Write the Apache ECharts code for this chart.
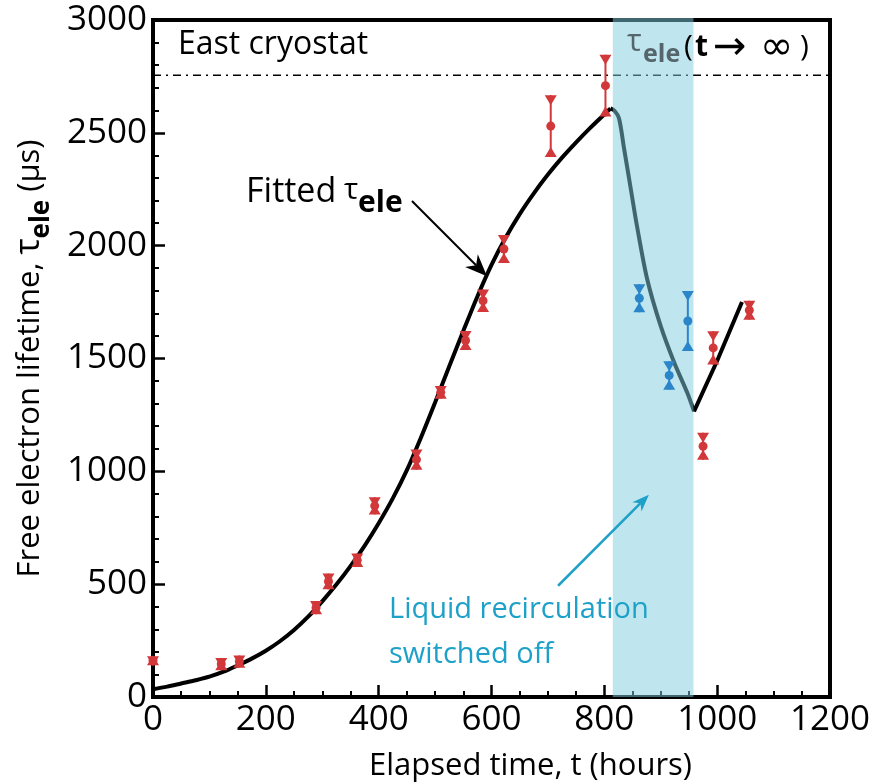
<!DOCTYPE html>
<html>
<head>
<meta charset="utf-8">
<script src="https://cdn.jsdelivr.net/npm/echarts@6/dist/echarts.min.js"></script>
<style>
  html, body { margin: 0; padding: 0; background: #fff; }
  #chart { width: 890px; height: 783px; }
</style>
</head>
<body>
<div id="chart"></div>
<script>
// Measured free electron lifetime, east cryostat (hours, µs, ± error)
const redHours = [0, 121, 153, 289, 311, 362, 393, 467, 510, 554, 585, 622, 705, 802, 975, 993, 1057];
const redTau   = [161, 146, 157, 396, 512, 606, 847, 1052, 1350, 1580, 1756, 1985, 2530, 2709, 1111, 1547, 1714];
const redErr   = [20, 27, 27, 29, 35, 30, 38, 45, 28, 42, 50, 62, 137, 137, 60, 74, 42];

// Measurements taken while liquid recirculation was off
const blueHours = [862, 915, 948];
const blueTau   = [1767, 1425, 1666];
const blueErr   = [62, 63, 133];

// Fitted lifetime curve: rise, decay with recirculation off, recovery
const fitRiseHours = [0, 25, 50, 75, 100, 125, 150, 175, 200, 225, 250, 275, 300, 325, 350, 375, 400, 425, 450, 475, 500, 525, 550, 575, 600, 625, 650, 675, 700, 725, 750, 775, 800, 811];
const fitRiseTau   = [34, 46, 60, 74, 90, 112, 140, 170, 205, 247, 297, 356, 424, 498, 580, 670, 770, 880, 1005, 1150, 1305, 1465, 1622, 1775, 1915, 2035, 2140, 2232, 2315, 2390, 2458, 2522, 2582, 2608];
const fitFallHours = [811, 818, 826, 835, 847, 858, 876, 900, 924, 947, 959];
const fitFallTau   = [2608, 2598, 2565, 2430, 2250, 2085, 1851, 1643, 1481, 1348, 1266];
const fitRecoverHours = [959, 1000, 1044];
const fitRecoverTau   = [1266, 1490, 1750];

// Asymptotic lifetime and the recirculation-off window
const asymptoteTau = 2755;
const offWindow = [815, 958];

// Axis ticks
const xTicks = { min: 0, max: 1200, step: 200 };
const yTicks = { min: 0, max: 3000, step: 500 };

const FONT = '"Open Sans", "Noto Sans", sans-serif';
const SYMBOL_FONT = '"DejaVu Sans", sans-serif';
const RED = '#d2373a';
const BLUE = '#2a86c8';

const pairs = (xs, ys) => xs.map((x, i) => [x, ys[i]]);
const triples = (xs, ys, es) => xs.map((x, i) => [x, ys[i], es[i]]);

function errorBarItem(color) {
  return function (params, api) {
    const x = api.value(0), y = api.value(1), e = api.value(2);
    const c = api.coord([x, y]);
    const hi = api.coord([x, y + e]);
    const lo = api.coord([x, y - e]);
    const w = 6, h = 10;
    return {
      type: 'group',
      children: [
        { type: 'line', shape: { x1: c[0], y1: hi[1], x2: c[0], y2: lo[1] },
          style: { stroke: color, lineWidth: 2 } },
        { type: 'polygon', shape: { points: [[c[0] - w, hi[1]], [c[0] + w, hi[1]], [c[0], hi[1] + h]] },
          style: { fill: color } },
        { type: 'polygon', shape: { points: [[c[0] - w, lo[1]], [c[0] + w, lo[1]], [c[0], lo[1] - h]] },
          style: { fill: color } },
        { type: 'circle', shape: { cx: c[0], cy: c[1], r: 4.5 }, style: { fill: color } }
      ]
    };
  };
}

const chart = echarts.init(document.getElementById('chart'), null, { renderer: 'canvas' });

const labelStyle = { color: '#000', fontSize: 35, fontFamily: FONT, margin: 6, formatter: v => String(v) };

chart.setOption({
  animation: false,
  backgroundColor: '#fff',
  grid: {
    left: 153, right: 60, top: 20, bottom: 86,
    show: true, borderColor: '#000', borderWidth: 4, backgroundColor: 'transparent',
    containLabel: false, outerBoundsMode: 'none'
  },
  xAxis: {
    type: 'value', z: 4,
    min: xTicks.min, max: xTicks.max, interval: xTicks.step,
    splitLine: { show: false },
    axisLine: { show: true, onZero: false, lineStyle: { color: '#000', width: 4 } },
    axisTick: { show: true, inside: true, length: 12, lineStyle: { color: '#000', width: 2.5 } },
    minorTick: { show: true, splitNumber: 4, length: 6, lineStyle: { color: '#000', width: 2 } },
    axisLabel: labelStyle,
    name: 'Elapsed time, t (hours)',
    nameLocation: 'middle',
    nameGap: 54,
    nameMoveOverlap: false,
    nameTextStyle: { color: '#000', fontSize: 31, fontFamily: FONT, padding: [0, 0, 0, 78] }
  },
  yAxis: {
    type: 'value', z: 4,
    min: yTicks.min, max: yTicks.max, interval: yTicks.step,
    splitLine: { show: false },
    axisLine: { show: true, onZero: false, lineStyle: { color: '#000', width: 4 } },
    axisTick: { show: true, inside: true, length: 12, lineStyle: { color: '#000', width: 2.5 } },
    minorTick: { show: true, splitNumber: 5, length: 6, lineStyle: { color: '#000', width: 2 } },
    axisLabel: labelStyle,
    name: '{a|Free electron lifetime, }{t|τ}{s|ele}{a| (μs)}',
    nameLocation: 'middle',
    nameGap: 98,
    nameMoveOverlap: false,
    nameTextStyle: {
      color: '#000', fontFamily: FONT,
      rich: {
        a: { fontSize: 31, fontFamily: FONT, color: '#000', lineHeight: 36, padding: [0, 0, 9, 0], verticalAlign: 'bottom' },
        t: { fontSize: 34, fontFamily: FONT, color: '#000', lineHeight: 36, padding: [0, 0, 9, 0], verticalAlign: 'bottom' },
        s: { fontSize: 26, fontFamily: FONT, fontWeight: 'bold', color: '#000', lineHeight: 32, verticalAlign: 'bottom' }
      }
    }
  },
  series: [
    {
      name: 'asymptote', type: 'line', z: 2, symbol: 'none', silent: true,
      data: [[xTicks.min, asymptoteTau], [xTicks.max, asymptoteTau]],
      lineStyle: { color: '#000', width: 1.6, type: [8, 5, 2, 5] }
    },
    {
      name: 'fit rise', type: 'line', z: 3, symbol: 'none', smooth: 0.3, silent: true,
      data: pairs(fitRiseHours, fitRiseTau),
      lineStyle: { color: '#000', width: 4 }
    },
    {
      name: 'fit decay', type: 'line', z: 3, symbol: 'none', smooth: 0.3, silent: true,
      data: pairs(fitFallHours, fitFallTau),
      lineStyle: { color: '#000', width: 4 }
    },
    {
      name: 'fit recovery', type: 'line', z: 3, symbol: 'none', silent: true,
      data: pairs(fitRecoverHours, fitRecoverTau),
      lineStyle: { color: '#000', width: 4 }
    },
    {
      name: 'recirculation off', type: 'custom', z: 6, silent: true,
      data: [offWindow],
      renderItem: function (params, api) {
        const a = api.coord([api.value(0), yTicks.max]);
        const b = api.coord([api.value(1), yTicks.min]);
        return {
          type: 'rect',
          shape: { x: a[0], y: a[1] - 2, width: b[0] - a[0], height: b[1] - a[1] + 2 },
          style: { fill: 'rgba(128, 203, 224, 0.5)' }
        };
      }
    },
    {
      name: 'east', type: 'custom', z: 10, silent: true,
      data: triples(redHours, redTau, redErr),
      renderItem: errorBarItem(RED)
    },
    {
      name: 'recirculation off points', type: 'custom', z: 10, silent: true,
      data: triples(blueHours, blueTau, blueErr),
      renderItem: errorBarItem(BLUE)
    }
  ]
});

// Annotation arrows are anchored in data space
function arrow(from, to, color, lineWidth, headLen, headWidth) {
  const p1 = chart.convertToPixel({ gridIndex: 0 }, from);
  const p2 = chart.convertToPixel({ gridIndex: 0 }, to);
  const dx = p2[0] - p1[0], dy = p2[1] - p1[1];
  const len = Math.sqrt(dx * dx + dy * dy);
  const ux = dx / len, uy = dy / len, nx = -uy, ny = ux;
  const bx = p2[0] - ux * headLen, by = p2[1] - uy * headLen;
  const notchX = p2[0] - ux * headLen * 0.7, notchY = p2[1] - uy * headLen * 0.7;
  return [
    { type: 'line', z: 20, shape: { x1: p1[0], y1: p1[1], x2: notchX, y2: notchY },
      style: { stroke: color, lineWidth: lineWidth } },
    { type: 'polygon', z: 20, shape: { points: [
        [p2[0], p2[1]],
        [bx + nx * headWidth / 2, by + ny * headWidth / 2],
        [notchX, notchY],
        [bx - nx * headWidth / 2, by - ny * headWidth / 2]
      ] }, style: { fill: color } }
  ];
}

function label(text, x, y, size, opts) {
  return {
    type: 'text', z: 20, x: x, y: y,
    style: Object.assign({
      text: text, fontSize: size, fontFamily: FONT, fill: '#000',
      align: 'left', verticalAlign: 'middle'
    }, opts || {})
  };
}

const TEAL = '#1ea1c9';
const GREY = '#56656c';

chart.setOption({
  graphic: [
    label('East cryostat', 178, 45, 32),
    label('τ', 627, 42, 31, { fill: GREY }),
    label('ele', 643, 55, 25, { fill: GREY, fontWeight: 'bold' }),
    label('(', 684, 47, 30),
    label('t', 695, 47, 30, { fontWeight: 'bold' }),
    label('→', 713, 49, 40, { fontFamily: SYMBOL_FONT }),
    label('∞', 760, 49, 40, { fontFamily: SYMBOL_FONT }),
    label(')', 800, 47, 30),
    label('Fitted', 246, 192, 34),
    label('τ', 344, 190, 30),
    label('ele', 358, 203, 30, { fontWeight: 'bold' }),
    label('Liquid recirculation', 389, 610, 29, { fill: TEAL }),
    label('switched off', 389, 655, 29, { fill: TEAL })
  ].concat(
    arrow([459, 2198], [592, 1865], '#000', 2, 22, 18),
    arrow([718, 493], [879, 896], TEAL, 2.5, 17, 13)
  )
});
</script>
</body>
</html>
